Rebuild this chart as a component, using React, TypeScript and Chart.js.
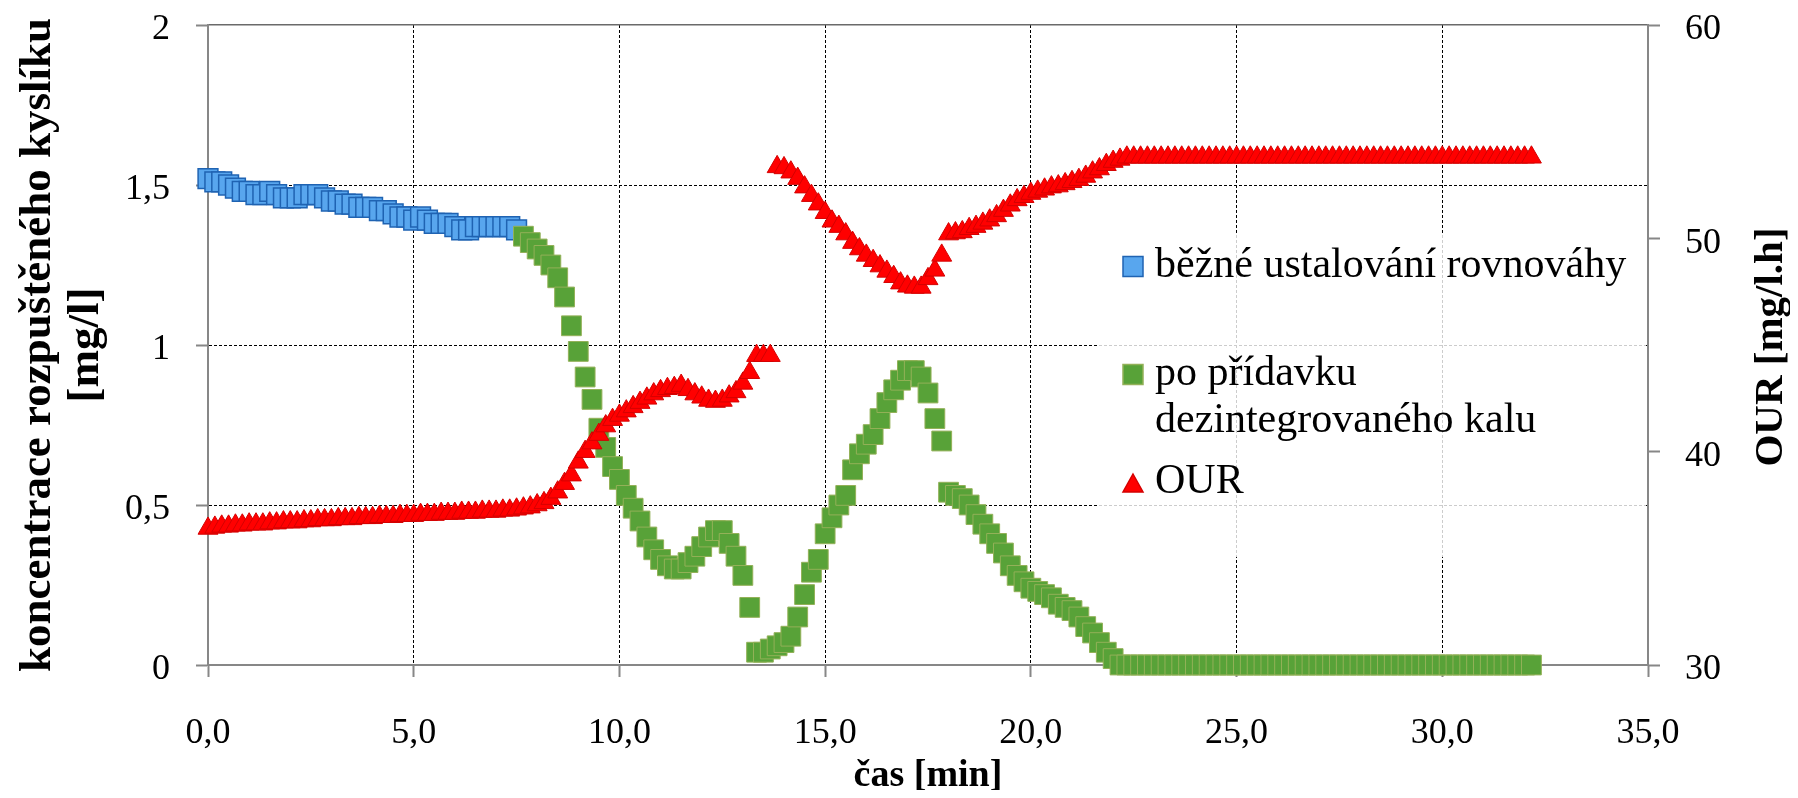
import React, { useEffect, useRef } from "react";
import { Chart, registerables } from "chart.js";

Chart.register(...registerables);

// sampling times [s]
const TIME_S = [
  0, 10, 20, 30, 40, 50, 60, 70, 80, 90, 100, 110, 120, 130, 140, 150, 160, 170, 180, 190,
  200, 210, 220, 230, 240, 250, 260, 270, 280, 290, 300, 310, 320, 330, 340, 350, 360, 370, 380, 390,
  400, 410, 420, 430, 440, 450, 460, 470, 480, 490, 500, 510, 520, 530, 540, 550, 560, 570, 580, 590,
  600, 610, 620, 630, 640, 650, 660, 670, 680, 690, 700, 710, 720, 730, 740, 750, 760, 770, 780, 790,
  800, 810, 820, 830, 840, 850, 860, 870, 880, 890, 900, 910, 920, 930, 940, 950, 960, 970, 980, 990,
  1000, 1010, 1020, 1030, 1040, 1050, 1060, 1070, 1080, 1090, 1100, 1110, 1120, 1130, 1140, 1150, 1160, 1170, 1180, 1190,
  1200, 1210, 1220, 1230, 1240, 1250, 1260, 1270, 1280, 1290, 1300, 1310, 1320, 1330, 1340, 1350, 1360, 1370, 1380, 1390,
  1400, 1410, 1420, 1430, 1440, 1450, 1460, 1470, 1480, 1490, 1500, 1510, 1520, 1530, 1540, 1550, 1560, 1570, 1580, 1590,
  1600, 1610, 1620, 1630, 1640, 1650, 1660, 1670, 1680, 1690, 1700, 1710, 1720, 1730, 1740, 1750, 1760, 1770, 1780, 1790,
  1800, 1810, 1820, 1830, 1840, 1850, 1860, 1870, 1880, 1890, 1900, 1910, 1920, 1930,
];

// "běžné ustalování rovnováhy" – dissolved O2 [mg/l], samples 0..45
const BLUE_DO = [
  1.52, 1.51, 1.51, 1.50, 1.49, 1.48, 1.48, 1.47, 1.47, 1.48,
  1.47, 1.46, 1.46, 1.46, 1.47, 1.47, 1.47, 1.46, 1.45, 1.45,
  1.44, 1.44, 1.43, 1.43, 1.43, 1.42, 1.42, 1.41, 1.40, 1.40,
  1.39, 1.40, 1.39, 1.38, 1.38, 1.38, 1.37, 1.36, 1.36, 1.37,
  1.37, 1.37, 1.37, 1.37, 1.37, 1.36,
];
const BLUE_START = 0;

// "po přídavku dezintegrovaného kalu" – dissolved O2 [mg/l], samples 46..193
const GREEN_DO = [
  1.34, 1.32, 1.30, 1.28, 1.25, 1.21, 1.15, 1.06, 0.98, 0.90,
  0.83, 0.74, 0.68, 0.62, 0.58, 0.53, 0.49, 0.45, 0.40, 0.36,
  0.33, 0.31, 0.30, 0.30, 0.32, 0.34, 0.37, 0.40, 0.42, 0.42,
  0.38, 0.34, 0.28, 0.18, 0.04, 0.04, 0.05, 0.06, 0.07, 0.09,
  0.15, 0.22, 0.29, 0.33, 0.41, 0.46, 0.50, 0.53, 0.61, 0.66,
  0.69, 0.72, 0.77, 0.82, 0.86, 0.89, 0.92, 0.92, 0.90, 0.85,
  0.77, 0.70, 0.54, 0.53, 0.52, 0.50, 0.47, 0.44, 0.41, 0.38,
  0.35, 0.31, 0.28, 0.26, 0.24, 0.23, 0.22, 0.21, 0.19, 0.18,
  0.17, 0.15, 0.12, 0.10, 0.07, 0.04, 0.02, 0.00,
  0, 0, 0, 0, 0, 0, 0, 0, 0, 0,
  0, 0, 0, 0, 0, 0, 0, 0, 0, 0,
  0, 0, 0, 0, 0, 0, 0, 0, 0, 0,
  0, 0, 0, 0, 0, 0, 0, 0, 0, 0,
  0, 0, 0, 0, 0, 0, 0, 0, 0, 0,
  0, 0, 0, 0, 0, 0, 0, 0, 0, 0,
];
const GREEN_START = 46;

// OUR [mg/l.h], samples 0..193
const RED_OUR = [
  36.4, 36.45, 36.5, 36.5, 36.55, 36.55, 36.6, 36.6, 36.6, 36.65,
  36.65, 36.7, 36.7, 36.7, 36.75, 36.75, 36.8, 36.8, 36.8, 36.85,
  36.85, 36.85, 36.9, 36.9, 36.9, 36.95, 36.95, 36.95, 37.0, 37.0,
  37.0, 37.05, 37.05, 37.05, 37.1, 37.1, 37.1, 37.15, 37.15, 37.15,
  37.2, 37.2, 37.2, 37.25, 37.25, 37.3, 37.35, 37.4, 37.5, 37.6,
  37.8, 38.1, 38.5, 38.9, 39.5, 40.0, 40.4, 40.8, 41.2, 41.5,
  41.7, 41.9, 42.1, 42.3, 42.5, 42.7, 42.85, 42.95, 43.0, 43.1,
  42.9, 42.7, 42.55, 42.4, 42.35, 42.4, 42.6, 42.8, 43.2, 43.7,
  44.5, 44.5, 44.5, 53.35, 53.3, 53.1, 52.8, 52.4, 52.0, 51.6,
  51.2, 50.8, 50.55, 50.2, 49.8, 49.5, 49.2, 48.95, 48.7, 48.45,
  48.2, 47.9, 47.75, 47.7, 47.7, 48.1, 48.5, 49.2, 50.2, 50.25,
  50.3, 50.45, 50.55, 50.7, 50.85, 51.05, 51.3, 51.55, 51.8, 51.95,
  52.1, 52.2, 52.3, 52.4, 52.45, 52.55, 52.65, 52.75, 52.9, 53.1,
  53.25, 53.45, 53.6, 53.7,
  53.8, 53.8, 53.8, 53.8, 53.8, 53.8, 53.8, 53.8, 53.8, 53.8,
  53.8, 53.8, 53.8, 53.8, 53.8, 53.8, 53.8, 53.8, 53.8, 53.8,
  53.8, 53.8, 53.8, 53.8, 53.8, 53.8, 53.8, 53.8, 53.8, 53.8,
  53.8, 53.8, 53.8, 53.8, 53.8, 53.8, 53.8, 53.8, 53.8, 53.8,
  53.8, 53.8, 53.8, 53.8, 53.8, 53.8, 53.8, 53.8, 53.8, 53.8,
  53.8, 53.8, 53.8, 53.8, 53.8, 53.8, 53.8, 53.8, 53.8, 53.8,
];
const RED_START = 0;

const SERIES_NAMES = ["běžné ustalování rovnováhy", "po přídavku dezintegrovaného kalu", "OUR"];
const LEGEND_LINES = [["běžné ustalování rovnováhy"], ["po přídavku", "dezintegrovaného kalu"], ["OUR"]];
const X_TITLE = "čas [min]";
const Y_TITLE = ["koncentrace rozpuštěného kyslíku", "[mg/l]"];
const Y2_TITLE = "OUR [mg/l.h]";

const FONT = '"Liberation Serif", "Times New Roman", serif';
const AXIS_GRAY = "#878787";

const BLUE_FILL = "#58A6EE";
const BLUE_EDGE = "#1F63B2";
const GREEN_FILL = "#58A238";
const GREEN_EDGE = "#93B158";
const RED_FILL = "#FF0000";
const RED_EDGE = "#D40000";

function toPoints(values: number[], start: number) {
  return values.map((v, i) => ({ x: TIME_S[start + i] / 60, y: v }));
}

const legendPlugin = {
  id: "insideLegend",
  beforeDatasetsDraw(chart: any) {
    const { ctx, chartArea: a } = chart;
    ctx.save();
    ctx.fillStyle = "rgba(255,255,255,0.8)";
    ctx.fillRect(a.right - 551, a.top + 208, 549, 324);
    ctx.restore();
  },
  afterDatasetsDraw(chart: any) {
    const { ctx, chartArea: a } = chart;
    const mx = a.right - 515;
    const tx = a.right - 493;
    const rows = [
      { cy: a.top + 241.5, base: [a.top + 252] },
      { cy: a.top + 349.5, base: [a.top + 360, a.top + 407] },
      { cy: a.top + 458, base: [a.top + 468] },
    ];
    ctx.save();
    rows.forEach((r, i) => {
      const ds = chart.data.datasets[i];
      ctx.fillStyle = ds.pointBackgroundColor;
      ctx.strokeStyle = ds.pointBorderColor;
      ctx.lineWidth = 1.5;
      ctx.beginPath();
      if (ds.pointStyle === "triangle") {
        ctx.moveTo(mx, r.cy - 9);
        ctx.lineTo(mx + 10, r.cy + 9);
        ctx.lineTo(mx - 10, r.cy + 9);
        ctx.closePath();
      } else {
        ctx.rect(mx - 10, r.cy - 10, 20, 20);
      }
      ctx.fill();
      ctx.stroke();
      ctx.fillStyle = "#000";
      ctx.font = `42px ${FONT}`;
      ctx.textAlign = "left";
      ctx.textBaseline = "alphabetic";
      LEGEND_LINES[i].forEach((line, j) => ctx.fillText(line, tx, r.base[j]));
    });
    ctx.restore();
  },
  afterDraw(chart: any) {
    const { ctx, chartArea: a } = chart;
    ctx.save();
    ctx.translate(a.right + 123, (a.top + a.bottom) / 2 + 2);
    ctx.rotate(-Math.PI / 2);
    ctx.font = `bold 41px ${FONT}`;
    ctx.fillStyle = "#000";
    ctx.textAlign = "center";
    ctx.textBaseline = "middle";
    ctx.fillText(Y2_TITLE, 0, 0);
    ctx.restore();
  },
};

const gridColor = (edges: number[]) => (c: any) =>
  c.tick && edges.includes(c.tick.value) ? "rgba(0,0,0,0)" : "#000";

export default function App() {
  const ref = useRef<HTMLCanvasElement>(null);
  useEffect(() => {
    if (!ref.current) return;
    const tickFont = { family: FONT, size: 36 };
    const chart = new Chart(ref.current, {
      type: "scatter",
      data: {
        datasets: [
          {
            label: SERIES_NAMES[0],
            data: toPoints(BLUE_DO, BLUE_START),
            xAxisID: "x",
            yAxisID: "y",
            pointStyle: "rect",
            pointRadius: 14,
            pointBackgroundColor: BLUE_FILL,
            pointBorderColor: BLUE_EDGE,
            pointBorderWidth: 1.5,
            order: 3,
            clip: false,
          },
          {
            label: SERIES_NAMES[1],
            data: toPoints(GREEN_DO, GREEN_START),
            xAxisID: "x",
            yAxisID: "y",
            pointStyle: "rect",
            pointRadius: 14,
            pointBackgroundColor: GREEN_FILL,
            pointBorderColor: GREEN_EDGE,
            pointBorderWidth: 1,
            order: 2,
            clip: false,
          },
          {
            label: SERIES_NAMES[2],
            data: toPoints(RED_OUR, RED_START),
            xAxisID: "x",
            yAxisID: "y2",
            pointStyle: "triangle",
            pointRadius: 11.5,
            pointBackgroundColor: RED_FILL,
            pointBorderColor: RED_EDGE,
            pointBorderWidth: 1,
            order: 1,
            clip: false,
          },
        ] as any,
      },
      options: {
        responsive: false,
        animation: false,
        events: [],
        layout: { padding: { top: 17, left: 0, right: 0, bottom: 0 } },
        plugins: { legend: { display: false }, tooltip: { enabled: false } },
        scales: {
          x: {
            type: "linear",
            position: "bottom",
            min: 0,
            max: 35,
            ticks: {
              stepSize: 5,
              padding: 35,
              font: tickFont,
              color: "#000",
              maxRotation: 0,
              autoSkip: false,
              callback: (v: any) => Number(v).toFixed(1).replace(".", ","),
            },
            grid: {
              color: gridColor([0, 35]),
              lineWidth: 1,
              tickLength: 12,
              tickColor: AXIS_GRAY,
              tickWidth: 2,
            },
            border: { display: true, color: AXIS_GRAY, width: 2, dash: [3, 2] },
            title: {
              display: true,
              text: X_TITLE,
              color: "#000",
              font: { family: FONT, size: 38, weight: "bold", lineHeight: 0.74 },
              padding: { top: 0, bottom: 0 },
            },
            afterFit: (s: any) => {
              s.height = 125;
              s.paddingLeft = 0;
              s.paddingRight = 0;
            },
          },
          x2: {
            type: "linear",
            position: "top",
            min: 0,
            max: 35,
            ticks: { display: false },
            grid: { display: false, drawTicks: false },
            border: { display: true, color: "#6a6a6a", width: 1.5 },
            afterFit: (s: any) => {
              s.height = 0;
              s.paddingLeft = 0;
              s.paddingRight = 0;
            },
          },
          y: {
            type: "linear",
            position: "left",
            min: 0,
            max: 2,
            ticks: {
              stepSize: 0.5,
              padding: 26,
              labelOffset: 5,
              font: tickFont,
              color: "#000",
              callback: (v: any) => String(v).replace(".", ","),
            },
            grid: {
              color: gridColor([0, 2]),
              lineWidth: 1,
              tickLength: 12,
              tickColor: AXIS_GRAY,
              tickWidth: 2,
            },
            border: { display: true, color: AXIS_GRAY, width: 2, dash: [3, 2] },
            title: {
              display: true,
              text: Y_TITLE,
              color: "#000",
              font: { family: FONT, size: 45, weight: "bold", lineHeight: 1.07 },
              padding: { top: 6, bottom: 0 },
            },
            afterFit: (s: any) => {
              s.width = 200;
              s.paddingTop = 0;
              s.paddingBottom = 0;
            },
          },
          y2: {
            type: "linear",
            position: "right",
            min: 30,
            max: 60,
            ticks: {
              stepSize: 10,
              padding: 25,
              labelOffset: 5,
              font: tickFont,
              color: "#000",
            },
            grid: {
              drawOnChartArea: false,
              color: AXIS_GRAY,
              tickLength: 12,
              tickColor: AXIS_GRAY,
              tickWidth: 2,
            },
            border: { display: true, color: AXIS_GRAY, width: 2 },
            afterFit: (s: any) => {
              s.width = 142;
              s.paddingTop = 0;
              s.paddingBottom = 0;
            },
          },
        },
      } as any,
      plugins: [legendPlugin],
    });
    return () => chart.destroy();
  }, []);
  return <canvas ref={ref} width={1782} height={782} style={{ display: "block" }} />;
}
